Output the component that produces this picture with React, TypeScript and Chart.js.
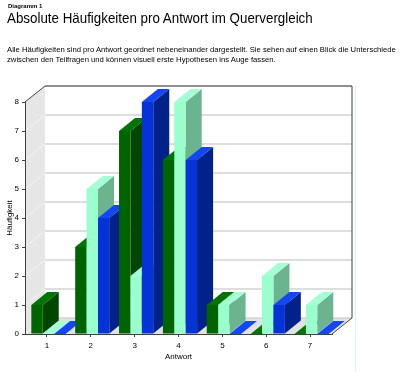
import React, { useEffect, useRef } from "react";
import { Chart, registerables } from "chart.js";

Chart.register(...registerables);

const categories = ["1", "2", "3", "4", "5", "6", "7"];
const seriesA = [1, 3, 7, 6, 1, 0, 0];
const seriesB = [0, 5, 2, 8, 1, 2, 1];
const seriesC = [0, 4, 8, 6, 0, 1, 0];
const yTicksMax = 8;

const FRONT = ["#006400", "#99ffcc", "#0533d8"];
const SIDE = ["#004600", "#6bb48f", "#00228a"];
const TOP = ["#007400", "#a4ffd4", "#1446f4"];

const FONT = "'Liberation Sans', Arial, sans-serif";

const threeD = {
  id: "threeD",
  beforeDatasetsDraw(chart: any) {
    const { ctx, chartArea, scales } = chart;
    const { left, right, top, bottom } = chartArea;
    const y = scales.y;
    const DX = 20, DY = -16;
    ctx.save();
    // left wall
    ctx.fillStyle = "#e6e6e6";
    ctx.beginPath();
    ctx.moveTo(left, top);
    ctx.lineTo(left + DX, top + DY);
    ctx.lineTo(left + DX, bottom + DY);
    ctx.lineTo(left, bottom);
    ctx.closePath();
    ctx.fill();
    // floor
    ctx.fillStyle = "#e2e2e2";
    ctx.beginPath();
    ctx.moveTo(left, bottom);
    ctx.lineTo(right, bottom);
    ctx.lineTo(right + DX, bottom + DY);
    ctx.lineTo(left + DX, bottom + DY);
    ctx.closePath();
    ctx.fill();
    // grid lines
    y.ticks.forEach((t: any) => {
      const yy = y.getPixelForValue(t.value);
      ctx.strokeStyle = "#d0d4d0";
      ctx.lineWidth = 1.5;
      ctx.beginPath();
      ctx.moveTo(left + DX, yy + DY);
      ctx.lineTo(right + DX, yy + DY);
      ctx.stroke();
      ctx.strokeStyle = "#f4f4f4";
      ctx.lineWidth = 1;
      ctx.beginPath();
      ctx.moveTo(left, yy);
      ctx.lineTo(left + DX, yy + DY);
      ctx.stroke();
    });
    // outline
    ctx.strokeStyle = "#404040";
    ctx.lineWidth = 1;
    ctx.beginPath();
    ctx.moveTo(left, top);
    ctx.lineTo(left + DX, top + DY);
    ctx.lineTo(right + DX, top + DY);
    ctx.lineTo(right + DX, bottom + DY);
    ctx.lineTo(right, bottom);
    ctx.stroke();

    // bars
    const bdx = 16, bdy = -13, shift = 1.5;
    const bars: any[] = [];
    chart.data.datasets.forEach((ds: any, i: number) => {
      const meta = chart.getDatasetMeta(i);
      meta.data.forEach((el: any) => {
        const p = el.getProps(["x", "y", "base", "width"], true);
        bars.push({ ...p, i });
      });
    });
    bars.sort((a, b) => a.x - b.x);
    bars.forEach((b) => {
      const l = b.x - b.width / 2 + shift;
      const r = b.x + b.width / 2 + shift;
      const t = Math.min(b.y, b.base);
      const bt = Math.max(b.y, b.base);
      ctx.fillStyle = SIDE[b.i];
      ctx.beginPath();
      ctx.moveTo(r, t);
      ctx.lineTo(r + bdx, t + bdy);
      ctx.lineTo(r + bdx, bt + bdy);
      ctx.lineTo(r, bt);
      ctx.closePath();
      ctx.fill();
      ctx.fillStyle = TOP[b.i];
      ctx.beginPath();
      ctx.moveTo(l, t);
      ctx.lineTo(r, t);
      ctx.lineTo(r + bdx, t + bdy);
      ctx.lineTo(l + bdx, t + bdy);
      ctx.closePath();
      ctx.fill();
      ctx.fillStyle = FRONT[b.i];
      ctx.fillRect(l, t, r - l, bt - t);
    });
    ctx.restore();
    return false;
  },
};

export default function App() {
  const ref = useRef<HTMLCanvasElement>(null);
  useEffect(() => {
    const chart = new Chart(ref.current!, {
      type: "bar",
      data: {
        labels: categories,
        datasets: [
          { label: "A", data: seriesA, backgroundColor: FRONT[0] },
          { label: "B", data: seriesB, backgroundColor: FRONT[1] },
          { label: "C", data: seriesC, backgroundColor: FRONT[2] },
        ],
      },
      options: {
        responsive: false,
        animation: false,
        devicePixelRatio: 1,
        layout: { padding: { top: 102, right: 68, left: 0, bottom: 0 } },
        plugins: { legend: { display: false }, tooltip: { enabled: false }, title: { display: false } },
        datasets: { bar: { categoryPercentage: 0.78, barPercentage: 1 } },
        scales: {
          x: {
            grid: { display: true, drawOnChartArea: false, drawTicks: true, tickLength: 3, color: "#404040", offset: false },
            border: { display: true, color: "#404040", z: 1 },
            ticks: { color: "#000", font: { size: 8, family: FONT }, padding: 4, maxRotation: 0 },
            title: { display: true, text: "Antwort", color: "#000", font: { size: 8, family: FONT }, padding: { top: 0, bottom: 10 } },
            afterFit: (s: any) => { s.height = 38; },
          },
          y: {
            min: 0,
            max: yTicksMax,
            grid: { display: true, drawOnChartArea: false, drawTicks: true, tickLength: 3, color: "#404040" },
            border: { display: true, color: "#404040", z: 1 },
            ticks: { stepSize: 1, color: "#000", font: { size: 8, family: FONT }, padding: 3 },
            title: { display: true, text: "Häufigkeit", color: "#000", font: { size: 8, family: FONT }, padding: { top: 5, bottom: 0 } },
            afterFit: (s: any) => { s.width = 25; },
          },
        },
      },
      plugins: [threeD],
    });
    return () => chart.destroy();
  }, []);

  return (
    <div style={{ position: "fixed", left: 0, top: 0, width: 400, height: 372, background: "#fff", overflow: "hidden", fontFamily: FONT }}>
      <canvas ref={ref} width={400} height={372} style={{ position: "absolute", left: 0, top: 0, width: 400, height: 372 }} />
      <div style={{ position: "absolute", left: 355, top: 85, width: 1, height: 287, background: "#d6f5e6" }} />
      <div style={{ position: "absolute", left: 8, top: 2, fontSize: 6, fontWeight: "bold", whiteSpace: "nowrap", lineHeight: "8px" }}>Diagramm 1</div>
      <div style={{ position: "absolute", left: 7, top: 9, fontSize: 15, whiteSpace: "nowrap", lineHeight: "18px", transform: "scaleX(0.89)", transformOrigin: "0 0" }}>Absolute Häufigkeiten pro Antwort im Quervergleich</div>
      <div style={{ position: "absolute", left: 7, top: 45, width: 395, fontSize: 7.7, lineHeight: "10px" }}>
        Alle Häufigkeiten sind pro Antwort geordnet nebeneinander dargestellt. Sie sehen auf einen Blick die Unterschiede zwischen den Teilfragen und können visuell erste Hypothesen ins Auge fassen.
      </div>
    </div>
  );
}
